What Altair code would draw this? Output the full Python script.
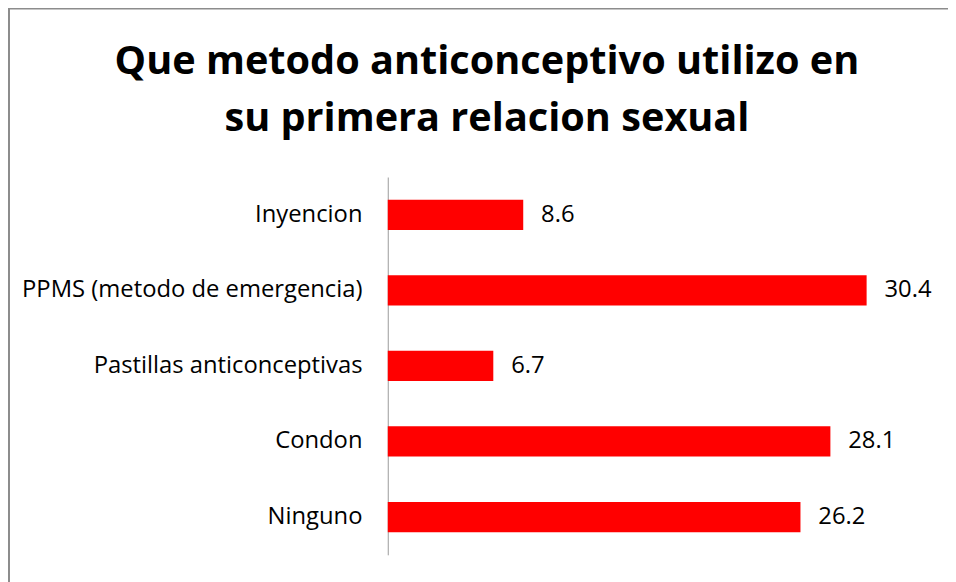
import altair as alt
import pandas as pd

categories = ["Inyencion", "PPMS (metodo de emergencia)", "Pastillas anticonceptivas", "Condon", "Ninguno"]
values = [8.6, 30.4, 6.7, 28.1, 26.2]
title_lines = ["Que metodo anticonceptivo utilizo en", "su primera relacion sexual"]

df = pd.DataFrame({"metodo": categories, "valor": values})
one = pd.DataFrame({"k": [0]})

FONT = "Open Sans"

y_enc = alt.Y(
    "metodo:N",
    sort=categories,
    title=None,
    scale=alt.Scale(paddingInner=0.6, paddingOuter=0.3),
    axis=alt.Axis(
        domainColor="#9a9a9a",
        domainWidth=1,
        ticks=False,
        labelFont=FONT,
        labelFontSize=24,
        labelColor="#000000",
        labelPadding=26,
        labelLimit=400,
    ),
)
x_enc = alt.X("valor:Q", scale=alt.Scale(domain=[0, 35]), axis=None)

bars = alt.Chart(df).mark_bar(color="#FF0000").encode(y=y_enc, x=x_enc)
labels = alt.Chart(df).mark_text(
    align="left", baseline="middle", dx=18, font=FONT, fontSize=24, color="#000000"
).encode(y=alt.Y("metodo:N", sort=categories), x="valor:Q", text=alt.Text("valor:Q", format=".1f"))

frame = alt.Chart(one).mark_rect(fill=None, stroke="#8c8c8c", strokeWidth=2).encode(
    x=alt.value(-382), x2=alt.value(700), y=alt.value(-170), y2=alt.value(500)
)

t1 = alt.Chart(one).mark_text(
    text=title_lines[0], font=FONT, fontSize=40, fontWeight="bold", align="center",
    baseline="alphabetic", color="#000000"
).encode(x=alt.value(100), y=alt.value(-104))
t2 = alt.Chart(one).mark_text(
    text=title_lines[1], font=FONT, fontSize=40, fontWeight="bold", align="center",
    baseline="alphabetic", color="#000000"
).encode(x=alt.value(100), y=alt.value(-46))

chart = alt.layer(frame, t1, t2, bars, labels).properties(
    width=556,
    height=381,
    padding={"left": 383, "top": 168, "right": 9, "bottom": 30},
    autosize="none",
).configure_view(stroke=None)

chart.save("out.html", embed_options={"renderer": "svg", "actions": False})
